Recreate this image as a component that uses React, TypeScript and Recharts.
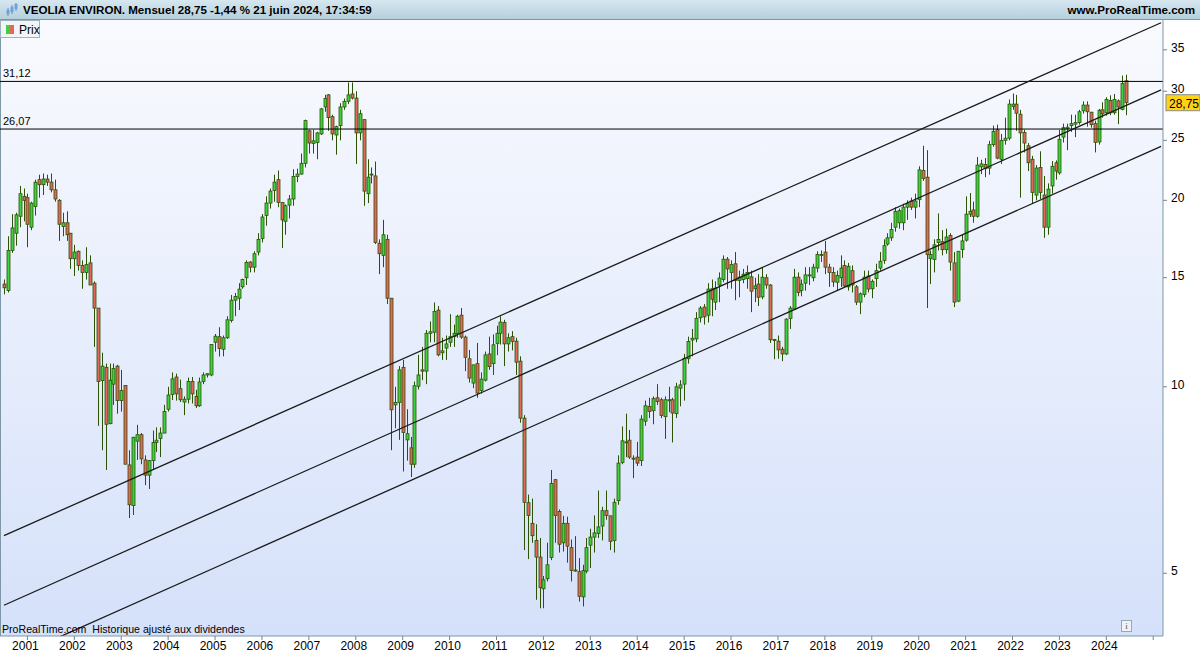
import React from "react";
import { ComposedChart, Bar, Line, XAxis, YAxis, ReferenceLine } from "recharts";

// mensuel, juillet 2000 -> juin 2024 (ajusté aux dividendes)
const startYear = 2000;
const startMonth = 7;
const totalSlots = 297;

const opens = [
  14.65, 14.3, 16.6, 17.7, 18.85, 20.3,
  20.2, 18.1, 19.55, 21.6, 21.2, 21.65, 21.4, 20.8, 20.0, 18.15, 18.4, 17.7,
  16.1, 16.55, 15.7, 15.3, 15.85, 14.7, 13.4, 10.24, 10.75, 8.72, 10.1, 10.8,
  9.5, 10.05, 7.48, 6.43, 8.17, 8.37, 7.62, 7.2, 7.6, 8.13, 8.25, 8.42,
  9.2, 9.72, 10.37, 9.93, 9.45, 9.55, 10.2, 9.65, 9.32, 10.2, 10.45, 10.45,
  11.8, 12.05, 11.5, 12.0, 12.8, 13.8, 13.9, 14.5, 15.0, 15.9, 15.6, 16.5,
  17.35, 18.9, 19.8, 20.75, 21.6, 19.85, 18.5, 19.65, 20.1, 21.85, 22.05, 22.95,
  25.9, 24.7, 24.8, 25.6, 28.3, 29.6, 27.3, 25.5, 26.4, 28.3, 28.9, 29.7,
  29.25, 25.7, 27.0, 20.5, 22.0, 21.9, 17.05, 16.3, 17.3, 13.9, 9.35, 9.43,
  10.75, 8.21, 7.97, 7.5, 10.02, 10.65, 10.6, 12.2, 12.25, 13.3, 11.35, 11.55,
  11.8, 12.05, 12.2, 13.05, 12.03, 11.1, 10.14, 10.9, 9.86, 10.25, 11.3, 10.9,
  11.75, 12.2, 12.7, 11.73, 12.05, 11.85, 11.0, 8.9, 6.5, 6.02, 5.65, 5.31,
  4.72, 4.9, 5.3, 7.08, 6.29, 5.6, 6.02, 5.5, 5.05, 5.03, 4.58, 5.04,
  5.55, 5.72, 5.8, 5.96, 6.31, 6.19, 5.65, 6.55, 7.55, 8.15, 8.2, 7.67,
  7.7, 7.6, 8.8, 9.3, 9.15, 9.6, 9.53, 8.95, 9.53, 9.53, 9.05, 9.95,
  10.1, 11.1, 11.9, 11.95, 12.93, 13.45, 13.05, 14.4, 13.7, 14.6, 14.9, 16.07,
  15.3, 15.8, 14.85, 14.9, 14.95, 15.05, 14.4, 14.65, 13.97, 15.0, 14.6, 11.92,
  11.85, 11.5, 11.3, 12.9, 13.35, 15.03, 14.3, 14.7, 15.1, 15.0, 15.55, 16.35,
  16.5, 15.6, 15.3, 14.75, 15.0, 15.7, 14.5, 15.4, 14.5, 13.7, 14.1, 15.1,
  14.4, 14.95, 15.55, 16.0, 17.0, 17.4, 18.1, 18.4, 18.4, 19.5, 19.95, 19.5,
  20.05, 22.35, 21.8, 16.1, 16.05, 17.1, 17.15, 16.65, 17.55, 15.85, 13.75, 16.65,
  17.25, 19.0, 19.3, 18.85, 22.65, 22.85, 22.55, 24.6, 26.0, 23.3, 25.0, 25.2,
  28.35, 28.6, 27.55, 25.75, 24.5, 23.3, 20.4, 22.6, 20.4, 18.1, 21.1, 23.0,
  22.15, 25.3, 26.1, 26.4, 26.55, 26.7, 27.9, 28.5, 27.75, 26.6, 24.85, 28.0,
  27.7, 29.0, 27.7, 28.95, 28.05, 31.2,
];

const highs = [
  14.9, 17.5, 19.0, 19.1, 21.1, 20.9,
  20.5, 19.9, 21.6, 22.0, 22.1, 22.0, 22.1, 21.6, 20.1, 19.1, 19.2, 17.7,
  16.95, 16.6, 16.0, 16.8, 16.3, 14.8, 13.4, 11.35, 10.9, 10.9, 10.9, 10.85,
  10.65, 10.05, 7.9, 8.3, 8.68, 8.42, 7.75, 7.62, 8.5, 8.6, 8.6, 9.35,
  10.0, 10.55, 10.5, 10.27, 9.65, 10.35, 10.37, 9.89, 10.35, 10.55, 10.5, 11.7,
  12.17, 12.48, 12.1, 13.0, 14.07, 14.17, 14.7, 14.95, 16.0, 15.95, 16.55, 17.7,
  19.0, 20.3, 20.9, 22.0, 22.35, 19.85, 19.7, 20.4, 22.45, 22.5, 23.8, 27.0,
  26.0, 26.0, 25.8, 28.2, 29.6, 29.7, 27.5, 26.4, 28.7, 29.2, 31.0, 31.0,
  30.0, 28.0, 27.0, 23.3, 22.6, 23.1, 17.3, 18.6, 17.6, 13.9, 10.0, 10.8,
  11.05, 9.2, 8.3, 10.2, 11.26, 11.6, 12.35, 12.75, 13.68, 13.5, 12.0, 12.1,
  13.1, 12.6, 13.07, 13.4, 12.1, 11.47, 10.85, 11.77, 10.55, 11.4, 12.05, 12.15,
  12.55, 13.0, 12.83, 12.2, 12.3, 12.0, 11.2, 9.0, 6.7, 6.6, 6.0, 5.7,
  4.95, 5.6, 7.34, 7.1, 6.34, 6.19, 6.17, 5.67, 5.74, 5.29, 5.16, 5.7,
  5.9, 6.2, 6.8, 6.4, 6.8, 6.19, 6.6, 7.75, 8.63, 9.05, 8.52, 7.75,
  8.15, 9.0, 9.5, 9.6, 9.65, 10.1, 9.6, 9.65, 10.0, 9.6, 10.15, 10.25,
  11.3, 12.05, 12.4, 13.2, 13.5, 13.6, 14.7, 14.9, 14.8, 15.3, 16.3, 16.2,
  16.0, 16.5, 15.4, 15.5, 15.7, 15.4, 15.0, 15.2, 15.6, 15.2, 14.65, 11.95,
  12.1, 11.6, 12.9, 13.5, 15.5, 15.3, 14.9, 15.6, 15.6, 15.8, 16.55, 16.6,
  17.2, 15.8, 15.6, 15.4, 16.3, 16.0, 15.85, 15.7, 14.6, 14.2, 15.4, 15.4,
  14.9, 15.8, 16.5, 17.3, 17.7, 18.4, 19.5, 19.4, 19.75, 20.0, 20.2, 20.5,
  22.7, 24.5, 24.1, 16.6, 17.3, 19.05, 17.9, 18.0, 17.7, 16.5, 16.55, 17.6,
  20.3, 20.55, 19.9, 23.5, 23.25, 23.4, 24.95, 26.4, 26.5, 25.6, 27.2, 29.1,
  29.75, 29.6, 28.0, 26.0, 24.75, 23.6, 22.8, 24.0, 21.9, 21.3, 23.15, 23.2,
  26.0, 26.6, 26.6, 27.5, 27.5, 28.0, 28.9, 28.9, 27.8, 26.9, 28.1, 28.8,
  29.35, 29.55, 29.7, 29.1, 31.8, 31.9,
];

const lows = [
  14.1, 14.2, 16.45, 16.9, 18.1, 18.5,
  16.8, 17.9, 18.9, 20.2, 20.4, 21.1, 20.6, 19.9, 17.2, 17.5, 17.2, 15.5,
  15.1, 15.4, 14.4, 14.9, 14.6, 11.6, 8.65, 7.9, 7.34, 8.7, 9.35, 9.05,
  9.12, 7.5, 6.14, 6.21, 7.62, 7.5, 6.94, 6.84, 7.35, 7.85, 7.7, 8.42,
  9.12, 9.52, 9.5, 9.45, 9.0, 9.4, 9.4, 9.24, 9.28, 10.1, 10.35, 10.4,
  11.4, 11.19, 11.2, 11.95, 12.7, 13.0, 13.3, 14.4, 14.6, 15.3, 15.3, 16.3,
  17.1, 18.2, 19.4, 19.9, 19.5, 16.75, 17.6, 18.7, 19.6, 21.4, 22.0, 22.6,
  23.8, 23.8, 23.3, 25.5, 27.8, 25.9, 25.0, 23.7, 25.0, 28.0, 28.6, 29.1,
  22.9, 25.0, 19.6, 19.8, 21.3, 17.0, 15.2, 15.6, 13.6, 7.9, 8.57, 8.21,
  7.3, 7.6, 7.15, 7.4, 9.9, 10.25, 10.1, 11.8, 11.8, 11.2, 11.05, 11.05,
  11.6, 11.6, 12.0, 11.95, 10.6, 10.16, 9.95, 9.6, 9.75, 10.2, 10.65, 10.45,
  11.25, 11.7, 10.8, 11.4, 11.45, 10.45, 8.75, 5.45, 5.27, 5.6, 4.53, 4.39,
  4.39, 4.85, 5.25, 5.6, 5.4, 5.42, 5.2, 4.85, 5.03, 4.5, 4.42, 5.0,
  5.1, 5.4, 5.7, 5.65, 6.1, 5.45, 5.4, 6.45, 7.5, 7.7, 7.65, 7.12,
  7.45, 7.45, 8.65, 8.9, 8.7, 9.35, 8.9, 8.24, 9.1, 8.13, 8.9, 9.3,
  9.5, 10.9, 11.2, 11.8, 12.7, 12.6, 12.7, 13.0, 13.3, 13.7, 14.75, 14.4,
  14.4, 13.8, 13.95, 14.7, 14.4, 13.2, 13.7, 13.5, 13.85, 14.4, 11.77, 11.08,
  11.1, 11.0, 11.25, 12.4, 13.3, 14.0, 14.0, 14.3, 14.6, 14.8, 15.3, 15.9,
  15.2, 14.5, 14.5, 14.3, 14.5, 14.5, 14.3, 14.2, 13.55, 13.1, 13.95, 14.2,
  13.9, 14.5, 15.4, 15.8, 16.9, 17.2, 17.8, 18.0, 17.9, 18.6, 19.3, 18.7,
  19.5, 21.5, 13.4, 14.65, 15.3, 16.6, 16.3, 16.4, 15.4, 13.45, 13.7, 16.15,
  17.15, 18.8, 18.4, 18.75, 22.05, 21.8, 22.0, 24.4, 23.3, 22.9, 24.6, 25.0,
  28.0, 25.9, 20.2, 23.9, 22.3, 19.8, 20.0, 20.1, 17.4, 17.6, 20.5, 21.6,
  22.0, 24.8, 24.1, 25.8, 25.3, 26.5, 27.6, 26.3, 26.2, 23.9, 24.6, 27.2,
  27.4, 27.45, 27.5, 26.55, 27.95, 27.45,
];

const closes = [
  14.45, 16.6, 18.05, 18.95, 20.5, 20.0,
  18.3, 19.8, 21.4, 21.2, 21.65, 21.4, 20.8, 20.1, 18.3, 18.4, 17.6, 16.1,
  16.5, 15.7, 15.3, 15.75, 14.6, 13.4, 10.2, 10.8, 8.7, 10.25, 10.7, 9.5,
  9.86, 7.5, 6.45, 8.29, 8.37, 7.65, 7.2, 7.6, 8.13, 8.2, 8.42, 9.12,
  9.7, 10.3, 9.74, 9.53, 9.55, 10.2, 9.74, 9.32, 10.18, 10.45, 10.5, 11.7,
  12.07, 11.53, 12.0, 12.83, 13.8, 13.99, 14.38, 14.9, 15.87, 15.6, 16.4, 17.3,
  18.8, 19.8, 20.7, 21.4, 19.85, 18.6, 19.6, 20.1, 21.85, 22.05, 22.95, 26.9,
  24.75, 24.95, 25.7, 28.1, 29.2, 27.2, 25.6, 26.3, 28.3, 28.9, 29.6, 29.25,
  25.7, 27.6, 20.7, 21.8, 22.05, 17.1, 16.4, 17.6, 13.9, 9.18, 9.43, 10.65,
  8.44, 8.4, 7.5, 10.04, 10.45, 10.6, 12.2, 12.27, 13.23, 11.26, 11.43, 11.73,
  12.05, 12.2, 13.0, 12.03, 11.16, 10.33, 10.85, 9.77, 10.29, 11.26, 10.78, 11.69,
  12.2, 12.72, 11.73, 12.0, 11.84, 10.96, 8.9, 6.51, 6.2, 5.75, 5.31, 4.74,
  4.88, 5.16, 6.98, 6.2, 5.57, 6.02, 5.53, 5.05, 5.06, 4.59, 5.05, 5.5,
  5.72, 5.81, 5.94, 6.31, 6.2, 5.63, 6.51, 7.53, 8.18, 8.15, 7.7, 7.67,
  7.53, 8.87, 9.32, 9.12, 9.57, 9.47, 8.99, 9.53, 9.53, 9.07, 10.0, 10.07,
  11.12, 11.83, 11.98, 12.9, 13.4, 12.97, 14.38, 13.85, 14.43, 14.98, 16.07, 15.5,
  15.75, 14.85, 15.03, 15.2, 15.3, 14.27, 14.55, 13.95, 15.03, 14.6, 11.91, 11.88,
  11.47, 11.3, 12.86, 13.4, 15.03, 14.2, 14.65, 15.16, 15.16, 15.6, 16.35, 16.35,
  15.6, 15.3, 14.77, 15.13, 15.55, 14.55, 15.65, 14.6, 13.7, 14.13, 15.03, 14.38,
  14.8, 15.4, 15.95, 16.9, 17.4, 17.95, 19.2, 19.25, 19.5, 19.75, 19.5, 19.95,
  22.4, 21.7, 16.35, 16.35, 16.95, 17.3, 16.65, 17.45, 15.9, 13.7, 16.55, 17.2,
  19.0, 19.2, 18.85, 22.8, 22.9, 22.5, 24.6, 25.85, 23.4, 25.0, 25.2, 28.6,
  28.6, 27.65, 25.7, 24.75, 23.0, 20.6, 22.55, 20.6, 18.1, 20.85, 22.7, 22.3,
  25.1, 26.2, 26.25, 26.6, 26.7, 27.8, 28.5, 27.8, 26.5, 24.8, 27.95, 27.6,
  29.1, 27.7, 29.1, 28.3, 30.9, 28.75,
];

const yearTicks = [
  "2001", "2002", "2003", "2004", "2005", "2006", "2007", "2008", "2009",
  "2010", "2011", "2012", "2013", "2014", "2015", "2016", "2017", "2018",
  "2019", "2020", "2021", "2022", "2023", "2024", "2025",
];
const priceTicks = [5, 10, 15, 20, 25, 30, 35];
const levels = [31.12, 26.07];
const lastPrice = 28.75;

// canal : valeur au premier et au dernier mois du graphique
const channelUpper = [5.75, 38.7];
const channelMiddle = [4.44, 30.15];
const channelLower = [3.6, 24.45];

const FONT = "'Liberation Sans', Arial, sans-serif";
const WICK = "#2c5206";

const months: string[] = [];
for (let i = 0; i < totalSlots; i++) {
  const m0 = startMonth - 1 + i;
  const y = startYear + Math.floor(m0 / 12);
  const m = (m0 % 12) + 1;
  months.push(`${y}-${String(m).padStart(2, "0")}`);
}

const chartData = months.map((m, i) => {
  const has = i < closes.length;
  const last = i === totalSlots - 1;
  return {
    m,
    open: has ? opens[i] : null,
    high: has ? highs[i] : null,
    low: has ? lows[i] : null,
    close: has ? closes[i] : null,
    range: has ? [lows[i], highs[i]] : null,
    upper: i === 0 ? channelUpper[0] : last ? channelUpper[1] : null,
    middle: i === 0 ? channelMiddle[0] : last ? channelMiddle[1] : null,
    lower: i === 0 ? channelLower[0] : last ? channelLower[1] : null,
  };
});

const janTicks = yearTicks.map((y) => `${y}-01`);

const Candle = (props: any) => {
  const { x, y, width, height, payload } = props;
  if (!payload || payload.close == null || isNaN(y) || isNaN(height)) return null;
  const { open, close, high, low } = payload;
  const top = Math.min(y, y + height);
  const h = Math.abs(height);
  const lh = Math.log(high);
  const span = lh - Math.log(low) || 1;
  const py = (v: number) => top + ((lh - Math.log(v)) / span) * h;
  const cx = Math.round(x + width / 2) + 0.5;
  const up = close >= open;
  const b1 = py(Math.max(open, close));
  const b2 = py(Math.min(open, close));
  return (
    <g>
      <line x1={cx} x2={cx} y1={top} y2={top + h} stroke={WICK} strokeWidth={1} />
      <rect
        x={cx - 1.5}
        y={b1}
        width={3}
        height={Math.max(b2 - b1, 1)}
        fill={up ? "#3fd23f" : "#e4675c"}
        stroke={WICK}
        strokeWidth={0.8}
      />
    </g>
  );
};

const YearTick = (props: any) => {
  const { x, y, payload } = props;
  const year = String(payload.value).slice(0, 4);
  if (year === "2025") return null;
  return (
    <text x={x - 2} y={y + 8} textAnchor="middle" fontSize={12} fontFamily={FONT} fill="#000">
      {year}
    </text>
  );
};

const PriceTick = (props: any) => {
  const { x, y, payload } = props;
  return (
    <text x={x + 2} y={y + 2} fontSize={12} fontFamily={FONT} fill="#000">
      {payload.value}
    </text>
  );
};

const LevelLabel = (text: string) => (props: any) => {
  const { viewBox } = props;
  return (
    <text x={3} y={viewBox.y - 4} fontSize={11} fontFamily={FONT} fill="#000">
      {text}
    </text>
  );
};

const PriceTag = (props: any) => {
  const { viewBox } = props;
  const x = viewBox.x + viewBox.width + 3;
  return (
    <g>
      <rect x={x} y={viewBox.y - 8} width={34} height={16} fill="#ffd21a" stroke="#8a8a8a" />
      <text x={x + 3} y={viewBox.y + 5} fontSize={12} fontFamily={FONT} fill="#000">
        {String(lastPrice).replace(".", ",")}
      </text>
    </g>
  );
};

const HeaderIcon = () => (
  <svg width={14} height={14} style={{ position: "absolute", left: 5, top: 3 }}>
    <line x1={3} x2={3} y1={5} y2={13} stroke="#5a8ec0" />
    <rect x={1.5} y={7} width={3} height={4} fill="#6aa4d8" />
    <line x1={7} x2={7} y1={2} y2={11} stroke="#5a8ec0" />
    <rect x={5.5} y={4} width={3} height={5} fill="#6aa4d8" />
    <line x1={11} x2={11} y1={0} y2={8} stroke="#5a8ec0" />
    <rect x={9.5} y={1} width={3} height={5} fill="#6aa4d8" />
  </svg>
);

export default function App() {
  return (
    <div style={{ position: "relative", width: 1200, height: 654, background: "#fff", fontFamily: FONT, overflow: "hidden" }}>
      <style>{`body{margin:0}`}</style>
      <div
        style={{
          position: "absolute", left: 0, top: 20, width: 1163, height: 616,
          background: "linear-gradient(#f9fafe, #d5e1fa)",
          borderLeft: "1px solid #7d97a6", boxSizing: "border-box",
        }}
      />
      <ComposedChart
        width={1200}
        height={654}
        data={chartData}
        margin={{ top: 20, right: 0, bottom: 0, left: 0 }}
        barCategoryGap={0}
        style={{ position: "absolute", left: 0, top: 0 }}
      >
        <XAxis
          dataKey="m"
          ticks={janTicks}
          interval={0}
          height={18}
          padding={{ left: 2, right: 0 }}
          tick={<YearTick />}
          tickSize={4}
          tickLine={{ stroke: "#6f8796" }}
          axisLine={{ stroke: "#7d97a6" }}
        />
        <YAxis
          orientation="right"
          scale="log"
          domain={[3.96, 39.1]}
          allowDataOverflow
          ticks={priceTicks}
          width={37}
          tickSize={4}
          tickLine={{ stroke: "#6f8796" }}
          axisLine={{ stroke: "#7d97a6" }}
          tick={<PriceTick />}
        />
        {levels.map((v) => (
          <ReferenceLine
            key={v}
            y={v}
            stroke="#000"
            strokeWidth={1}
            label={{ content: LevelLabel(String(v).replace(".", ",")) }}
          />
        ))}
        <ReferenceLine y={lastPrice} stroke="none" label={{ content: PriceTag }} />
        <Line dataKey="upper" stroke="#1a1a1a" strokeWidth={1.3} dot={false} connectNulls isAnimationActive={false} />
        <Line dataKey="middle" stroke="#1a1a1a" strokeWidth={1.3} dot={false} connectNulls isAnimationActive={false} />
        <Line dataKey="lower" stroke="#1a1a1a" strokeWidth={1.3} dot={false} connectNulls isAnimationActive={false} />
        <Bar dataKey="range" shape={<Candle />} isAnimationActive={false} />
      </ComposedChart>

      <div
        style={{
          position: "absolute", left: 0, top: 0, width: 1200, height: 19,
          background: "linear-gradient(#d6e7f0, #b5d0dd)",
          borderBottom: "1px solid #7d97a6",
        }}
      >
        <HeaderIcon />
        <span style={{ position: "absolute", left: 23, top: 3, fontSize: 11.6, fontWeight: "bold", color: "#000" }}>
          VEOLIA ENVIRON. Mensuel 28,75 -1,44 % 21 juin 2024, 17:34:59
        </span>
        <span style={{ position: "absolute", right: 5, top: 3, fontSize: 11.6, fontWeight: "bold", color: "#000" }}>
          www.ProRealTime.com
        </span>
      </div>

      <div
        style={{
          position: "absolute", left: 0, top: 20, width: 40, height: 18,
          background: "#f2f5f8", border: "1px solid #9fb3bf", boxSizing: "border-box",
        }}
      >
        <span style={{ position: "absolute", left: 5, top: 4, width: 4, height: 9, background: "#3fd23f" }} />
        <span style={{ position: "absolute", left: 9, top: 4, width: 4, height: 9, background: "#e4675c" }} />
        <span style={{ position: "absolute", left: 18, top: 2, fontSize: 12, color: "#000" }}>Prix</span>
      </div>

      <div style={{ position: "absolute", left: 2, top: 623, fontSize: 10.6, color: "#000", whiteSpace: "pre" }}>
        ProRealTime.com  Historique ajusté aux dividendes
      </div>

      <div
        style={{
          position: "absolute", left: 1121, top: 620, width: 11, height: 12,
          border: "1px solid #9aa8b4", background: "#eef2f6", boxSizing: "border-box",
          fontSize: 9, color: "#556", textAlign: "center", lineHeight: "10px", fontFamily: "serif",
        }}
      >
        i
      </div>
    </div>
  );
}
